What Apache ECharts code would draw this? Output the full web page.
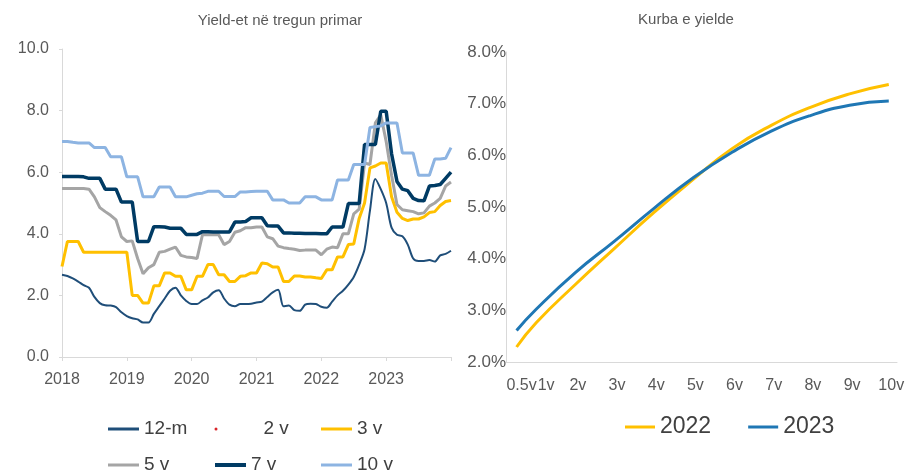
<!DOCTYPE html>
<html>
<head>
<meta charset="utf-8">
<script src="https://cdn.jsdelivr.net/npm/echarts@6/dist/echarts.min.js"></script>
<style>
  html, body { margin: 0; padding: 0; background: #ffffff; }
  #chart { width: 911px; height: 474px; }
</style>
</head>
<body>
<div id="chart"></div>
<script>
// Yield-et ne tregun primar: te dhena mujore, 2018-01 .. 2024-01
const months = [];
for (let y = 2018; y <= 2023; y++) {
  for (let m = 1; m <= 12; m++) months.push(y + "-" + (m < 10 ? "0" + m : m));
}
months.push("2024-01");

const yield12m = [2.67, 2.63, 2.55, 2.45, 2.33, 2.25, 1.95, 1.75, 1.68, 1.67,
  1.62, 1.45, 1.33, 1.26, 1.22, 1.12, 1.12, 1.4, 1.65, 1.9,
  2.15, 2.25, 2.0, 1.82, 1.72, 1.72, 1.84, 1.93, 2.1, 2.17,
  1.9, 1.7, 1.65, 1.72, 1.72, 1.73, 1.77, 1.8, 1.95, 2.1,
  2.18, 1.65, 1.67, 1.52, 1.5, 1.7, 1.73, 1.72, 1.63, 1.6,
  1.8, 2.0, 2.15, 2.35, 2.6, 3.0, 3.5, 4.75, 5.78, 5.45,
  5.0, 4.2, 3.97, 3.92, 3.65, 3.2, 3.12, 3.12, 3.15, 3.1,
  3.3, 3.35, 3.45];
const yield2v = [];
const yield3v = [2.94, 3.75, 3.75, 3.75, 3.4, 3.4, 3.4, 3.4, 3.4, 3.4,
  3.4, 3.4, 3.4, 2.0, 2.0, 1.75, 1.75, 2.31, 2.31, 2.73,
  2.73, 2.62, 2.62, 2.18, 2.18, 2.62, 2.62, 3.0, 3.0, 2.67,
  2.67, 2.45, 2.45, 2.62, 2.64, 2.73, 2.73, 3.05, 3.03, 2.92,
  2.92, 2.45, 2.45, 2.63, 2.63, 2.6, 2.6, 2.57, 2.55, 2.83,
  2.83, 3.25, 3.25, 3.65, 3.67, 4.5, 5.0, 6.14, 6.2, 6.3,
  6.3, 5.2, 4.7, 4.5, 4.43, 4.48, 4.48, 4.55, 4.69, 4.72,
  4.92, 5.05, 5.08];
const yield5v = [5.47, 5.47, 5.47, 5.47, 5.47, 5.45, 5.2, 4.85, 4.72, 4.6,
  4.45, 3.9, 3.75, 3.77, 3.2, 2.7, 2.9, 3.0, 3.4, 3.43,
  3.5, 3.57, 3.3, 3.25, 3.23, 3.2, 3.97, 3.97, 3.97, 3.97,
  3.65, 3.75, 4.05, 4.1, 4.2, 4.2, 4.22, 4.22, 3.9, 3.84,
  3.6, 3.55, 3.52, 3.5, 3.46, 3.47, 3.47, 3.47, 3.32, 3.5,
  3.57, 3.55, 4.0, 4.0, 4.65, 4.8, 6.3, 6.25, 7.6, 7.86,
  7.0, 5.9, 4.95, 4.78, 4.75, 4.72, 4.65, 4.68, 4.9, 5.0,
  5.15, 5.55, 5.68];
const yield7v = [5.86, 5.86, 5.86, 5.86, 5.85, 5.8, 5.8, 5.8, 5.45, 5.45,
  5.45, 5.03, 5.03, 5.03, 3.75, 3.75, 3.75, 4.23, 4.23, 4.22,
  4.18, 4.18, 4.18, 3.98, 3.98, 3.98, 4.07, 4.07, 4.06, 4.06,
  4.06, 4.06, 4.38, 4.38, 4.4, 4.52, 4.52, 4.52, 4.26, 4.25,
  4.25, 4.03, 4.03, 4.02, 4.02, 4.01, 4.01, 4.01, 4.0, 4.0,
  4.22, 4.22, 4.22, 4.98, 4.98, 4.98, 6.9, 6.9, 6.9, 7.98,
  7.98, 6.6, 5.7, 5.45, 5.4, 5.15, 5.08, 5.07, 5.55, 5.57,
  5.6, 5.8, 6.0];
const yield10v = [7.0, 7.0, 6.97, 6.95, 6.95, 6.95, 6.8, 6.8, 6.8, 6.5,
  6.5, 6.5, 5.85, 5.85, 5.85, 5.2, 5.2, 5.2, 5.52, 5.52,
  5.52, 5.2, 5.2, 5.2, 5.25, 5.3, 5.32, 5.38, 5.38, 5.38,
  5.21, 5.21, 5.21, 5.36, 5.36, 5.37, 5.38, 5.38, 5.38, 5.1,
  5.1, 5.1, 5.0, 5.0, 5.0, 5.2, 5.2, 5.2, 5.1, 5.1,
  5.1, 5.75, 5.75, 5.75, 6.25, 6.25, 6.25, 7.45, 7.48, 7.5,
  7.6, 7.6, 7.6, 6.62, 6.62, 6.62, 5.9, 5.9, 5.9, 6.43,
  6.43, 6.45, 6.8];

// Kurba e yield-eve
const tenors = [0.5, 1, 2, 3, 4, 5, 6, 7, 8, 9, 10];
const tenorLabels = ["0.5v", "1v", "2v", "3v", "4v", "5v", "6v", "7v", "8v", "9v", "10v"];
const curve2022 = [2.29, 2.76, 3.50, 4.20, 4.89, 5.53, 6.13, 6.58, 6.93, 7.19, 7.37];
const curve2023 = [2.61, 3.02, 3.73, 4.34, 4.97, 5.56, 6.06, 6.47, 6.77, 6.97, 7.05];

const FONT = "Liberation Sans";
const AXIS_GREY = "#d9d9d9";
const LABEL_GREY = "#595959";

const myChart = echarts.init(document.getElementById("chart"));

function legendItem(name, left, top, height, extra) {
  return Object.assign({
    data: [name],
    left: left,
    top: top,
    padding: 0,
    icon: "rect",
    itemWidth: 31,
    itemHeight: height,
    selectedMode: false,
    textStyle: { fontFamily: FONT, fontSize: 19, color: "#404040", lineHeight: 22 },
  }, extra || {});
}

const option = {
  backgroundColor: "#ffffff",
  animation: false,
  graphic: [
    {
      type: "text", x: 280, y: 21,
      style: { text: "Yield-et në tregun primar", font: "15px " + FONT, fill: LABEL_GREY, textAlign: "center", textVerticalAlign: "middle" },
    },
    {
      type: "text", x: 686, y: 20,
      style: { text: "Kurba e yielde", font: "15px " + FONT, fill: LABEL_GREY, textAlign: "center", textVerticalAlign: "middle" },
    },
  ],
  legend: [
    legendItem("12-m", 108, 418, 3),
    legendItem("2 v", 214.5, 418, 3, { icon: "circle", textStyle: { fontFamily: FONT, fontSize: 19, color: "#404040", lineHeight: 22, padding: [0, 0, 0, 27] } }),
    legendItem("3 v", 321, 418, 3),
    legendItem("5 v", 108, 454, 3),
    legendItem("7 v", 215, 454, 4),
    legendItem("10 v", 321, 454, 3),
    {
      data: ["2022", "2023"],
      left: 625,
      top: 415,
      padding: 0,
      icon: "rect",
      itemWidth: 30,
      itemHeight: 3,
      itemGap: 37,
      selectedMode: false,
      textStyle: { fontFamily: FONT, fontSize: 23, color: "#404040", lineHeight: 24 },
    },
  ],
  grid: [
    { left: 62, right: 460, top: 49, bottom: 117 },
    { left: 506, right: 14, top: 52, bottom: 112 },
  ],
  xAxis: [
    {
      gridIndex: 0,
      type: "category",
      data: months,
      boundaryGap: false,
      axisLine: { lineStyle: { color: AXIS_GREY } },
      axisTick: { show: true, interval: 11, length: 4, lineStyle: { color: AXIS_GREY } },
      axisLabel: {
        interval: function (i) { return i % 12 === 0 && i < 72; },
        formatter: function (v) { return v.slice(0, 4); },
        margin: 15,
        fontFamily: FONT,
        fontSize: 16,
        color: LABEL_GREY,
      },
      splitLine: { show: false },
    },
    {
      gridIndex: 1,
      type: "value",
      min: 0.23,
      max: 10.21,
      axisLine: { show: true, onZero: false, lineStyle: { color: AXIS_GREY } },
      axisTick: { show: false },
      axisLabel: {
        customValues: tenors,
        formatter: function (v) {
          const i = tenors.indexOf(v);
          const style = i === 0 ? "a" : i === 1 ? "b" : "c";
          return "{" + style + "|" + tenorLabels[i] + "}";
        },
        rich: {
          a: { padding: [0, 0, 0, 10], fontFamily: FONT, fontSize: 16, color: LABEL_GREY },
          b: { padding: [0, 0, 0, 20], fontFamily: FONT, fontSize: 16, color: LABEL_GREY },
          c: { padding: [0, 0, 0, 5], fontFamily: FONT, fontSize: 16, color: LABEL_GREY },
        },
        margin: 16,
        fontFamily: FONT,
        fontSize: 16,
        color: LABEL_GREY,
      },
      splitLine: { show: false },
    },
  ],
  yAxis: [
    {
      gridIndex: 0,
      type: "value",
      min: 0,
      max: 10,
      interval: 2,
      axisLine: { show: true, lineStyle: { color: AXIS_GREY } },
      axisTick: { show: true, length: 3, lineStyle: { color: AXIS_GREY } },
      axisLabel: {
        formatter: function (v) { return v.toFixed(1); },
        margin: 13,
        fontFamily: FONT,
        fontSize: 16,
        color: LABEL_GREY,
      },
      splitLine: { show: false },
    },
    {
      gridIndex: 1,
      type: "value",
      min: 2,
      max: 8,
      interval: 1,
      axisLine: { show: true, lineStyle: { color: AXIS_GREY } },
      axisTick: { show: false },
      axisLabel: {
        formatter: function (v) { return v.toFixed(1) + "%"; },
        margin: 0,
        fontFamily: FONT,
        fontSize: 17,
        color: LABEL_GREY,
      },
      splitLine: { show: false },
    },
  ],
  series: [
    { name: "12-m", type: "line", data: yield12m, smooth: 0.3, showSymbol: false, color: "#1f4e79", lineStyle: { width: 2 }, z: 3 },
    { name: "2 v", type: "line", data: yield2v, showSymbol: false, color: "#d9252a" },
    { name: "3 v", type: "line", data: yield3v, showSymbol: false, color: "#ffc000", lineStyle: { width: 3 } },
    { name: "5 v", type: "line", data: yield5v, showSymbol: false, color: "#a5a5a5", lineStyle: { width: 3 } },
    { name: "7 v", type: "line", data: yield7v, showSymbol: false, color: "#003b64", lineStyle: { width: 3.5 } },
    { name: "10 v", type: "line", data: yield10v, showSymbol: false, color: "#8db4e2", lineStyle: { width: 3 } },
    {
      name: "2022", type: "line", xAxisIndex: 1, yAxisIndex: 1, smooth: 0.5, showSymbol: false,
      data: tenors.map(function (t, i) { return [t, curve2022[i]]; }),
      color: "#ffc000", lineStyle: { width: 3 },
    },
    {
      name: "2023", type: "line", xAxisIndex: 1, yAxisIndex: 1, smooth: 0.5, showSymbol: false,
      data: tenors.map(function (t, i) { return [t, curve2023[i]]; }),
      color: "#1f77b4", lineStyle: { width: 3 },
    },
  ],
};

myChart.setOption(option);
</script>
</body>
</html>
